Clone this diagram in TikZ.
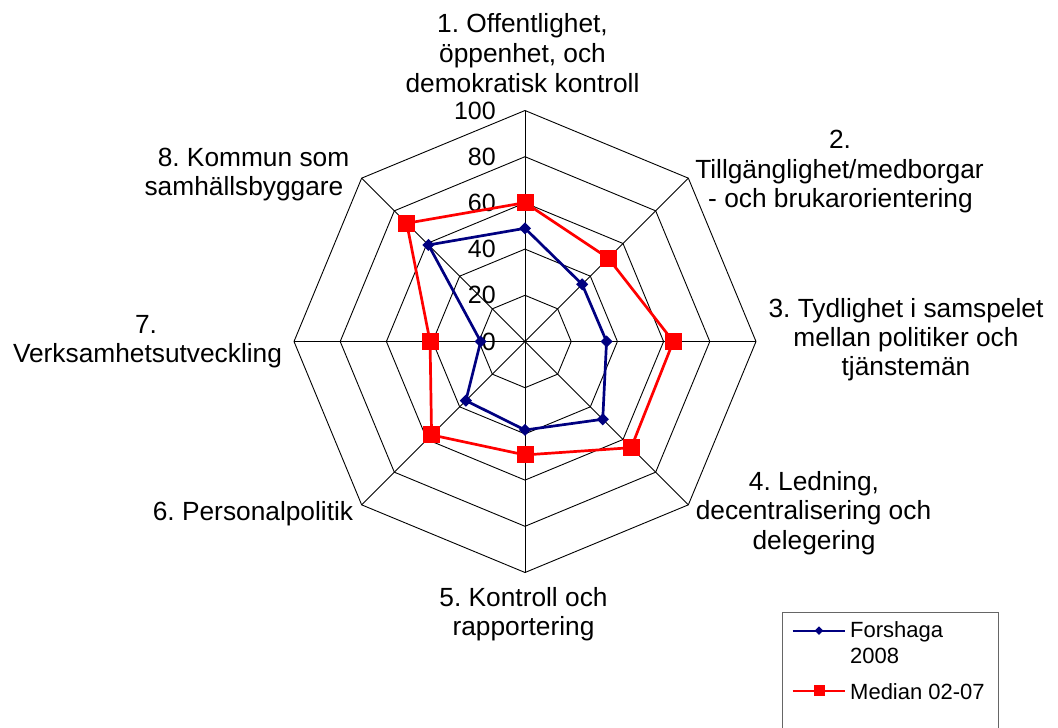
\documentclass[tikz,border=0pt]{standalone}
\usepackage{fontspec}
\setmainfont{Liberation Sans}
\usetikzlibrary{calc}
\definecolor{navyc}{RGB}{0,0,128}
\definecolor{redc}{RGB}{255,0,0}
\frenchspacing
\begin{document}
\begin{tikzpicture}[x=1pt,y=-1pt,
  gridline/.style={black,line width=0.9pt},
  bline/.style={navyc,line width=2.7pt,line join=round},
  rline/.style={redc,line width=2.7pt,line join=round},
  bmark/.style={fill=navyc,draw=none,rotate=45,minimum size=8.5pt,inner sep=0pt},
  rmark/.style={fill=redc,draw=none,minimum size=17pt,inner sep=0pt},
  lbl/.style={anchor=base,inner sep=0pt,font=\fontsize{26.3}{30}\selectfont},
  num/.style={anchor=east,inner sep=0pt,font=\fontsize{25}{30}\selectfont},
  leg/.style={anchor=base west,inner sep=0pt,font=\fontsize{22}{26}\selectfont}]
\useasboundingbox (0,0) rectangle (1058,728);
\def\R{231}
\coordinate (c) at (525,341.5);
% grid
\foreach \l in {0.2,0.4,0.6,0.8,1.0}{
  \draw[gridline] ($(c)+(-90:{\l*\R})$) \foreach \k in {1,...,7}{ -- ($(c)+({-90+45*\k}:{\l*\R})$)} -- cycle;
}
\foreach \k in {0,...,7}{
  \coordinate (s\k) at ($(c)+({-90+45*\k}:\R)$);
  \draw[gridline] (c) -- (s\k);
}
% axis numbers
\node[num] (n0) at (496,341.5) {0};
\node[num] (n20) at (496,{341.5-0.2*\R}) {20};
\node[num] (n40) at (496,{341.5-0.4*\R}) {40};
\node[num] (n60) at (496,{341.5-0.6*\R}) {60};
\node[num] (n80) at (496,{341.5-0.8*\R}) {80};
\node[num] (n100) at (496,{341.5-1.0*\R}) {100};
% data
\def\bvals{49,35,35.3,47.6,38.3,36.2,19.2,59.1}
\def\rvals{60.1,51,64.2,65,49.1,57.2,41.1,72.4}
\foreach \v [count=\i from 0] in \bvals { \coordinate (b\i) at ($(c)+({-90+45*\i}:{\v/100*\R})$); }
\foreach \v [count=\i from 0] in \rvals { \coordinate (r\i) at ($(c)+({-90+45*\i}:{\v/100*\R})$); }
\draw[rline] (r0) -- (r1) -- (r2) -- (r3) -- (r4) -- (r5) -- (r6) -- (r7) -- cycle;
\draw[bline] (b0) -- (b1) -- (b2) -- (b3) -- (b4) -- (b5) -- (b6) -- (b7) -- cycle;
\foreach \i in {0,...,7}{ \node[rmark] (rm\i) at (r\i) {}; }
\foreach \i in {0,...,7}{ \node[bmark] (bm\i) at (b\i) {}; }
% category labels
\node[lbl] (l1a) at (522.5,32.5) {1. Offentlighet,};
\node[lbl] (l1b) at (522.5,62.5) {öppenhet, och};
\node[lbl] (l1c) at (522.5,92.5) {demokratisk kontroll};
\node[lbl] (l2a) at (840,148.5) {2.};
\node[lbl] (l2b) at (839.5,178) {Tillgänglighet/medborgar};
\node[lbl] (l2c) at (840.5,207) {- och brukarorientering};
\node[lbl] (l3a) at (906,317.5) {3. Tydlighet i samspelet};
\node[lbl] (l3b) at (906,346.5) {mellan politiker och};
\node[lbl] (l3c) at (906,375.5) {tjänstemän};
\node[lbl] (l4a) at (814,490) {4. Ledning,};
\node[lbl] (l4b) at (813.5,519.5) {decentralisering och};
\node[lbl] (l4c) at (814,549) {delegering};
\node[lbl] (l5a) at (523.5,606.5) {5. Kontroll och};
\node[lbl] (l5b) at (523.5,635.5) {rapportering};
\node[lbl] (l6a) at (253,520.5) {6. Personalpolitik};
\node[lbl] (l7a) at (146,333.5) {7.};
\node[lbl] (l7b) at (147.5,362) {Verksamhetsutveckling};
\node[lbl] (l8a) at (253.5,166) {8. Kommun som};
\node[lbl] (l8b) at (244,195) {samhällsbyggare};
% legend
\draw[black!60,line width=0.9pt] (782,730) -- (782,612) -- (998,612) -- (998,730);
\coordinate (lb1) at (792.5,630.7);
\coordinate (lb2) at (845,630.7);
\coordinate (lr1) at (792.5,690.7);
\coordinate (lr2) at (845,690.7);
\draw[navyc,line width=2.2pt] (lb1) -- (lb2);
\draw[redc,line width=2.2pt] (lr1) -- (lr2);
\node[fill=navyc,rotate=45,minimum size=6pt,inner sep=0pt] (lbm) at (819,630.7) {};
\node[fill=redc,minimum size=11pt,inner sep=0pt] (lrm) at (819,690.7) {};
\node[leg] (t1) at (850,637) {Forshaga};
\node[leg] (t2) at (850,663) {2008};
\node[leg] (t3) at (850,699) {Median 02-07};
\end{tikzpicture}
\end{document}
